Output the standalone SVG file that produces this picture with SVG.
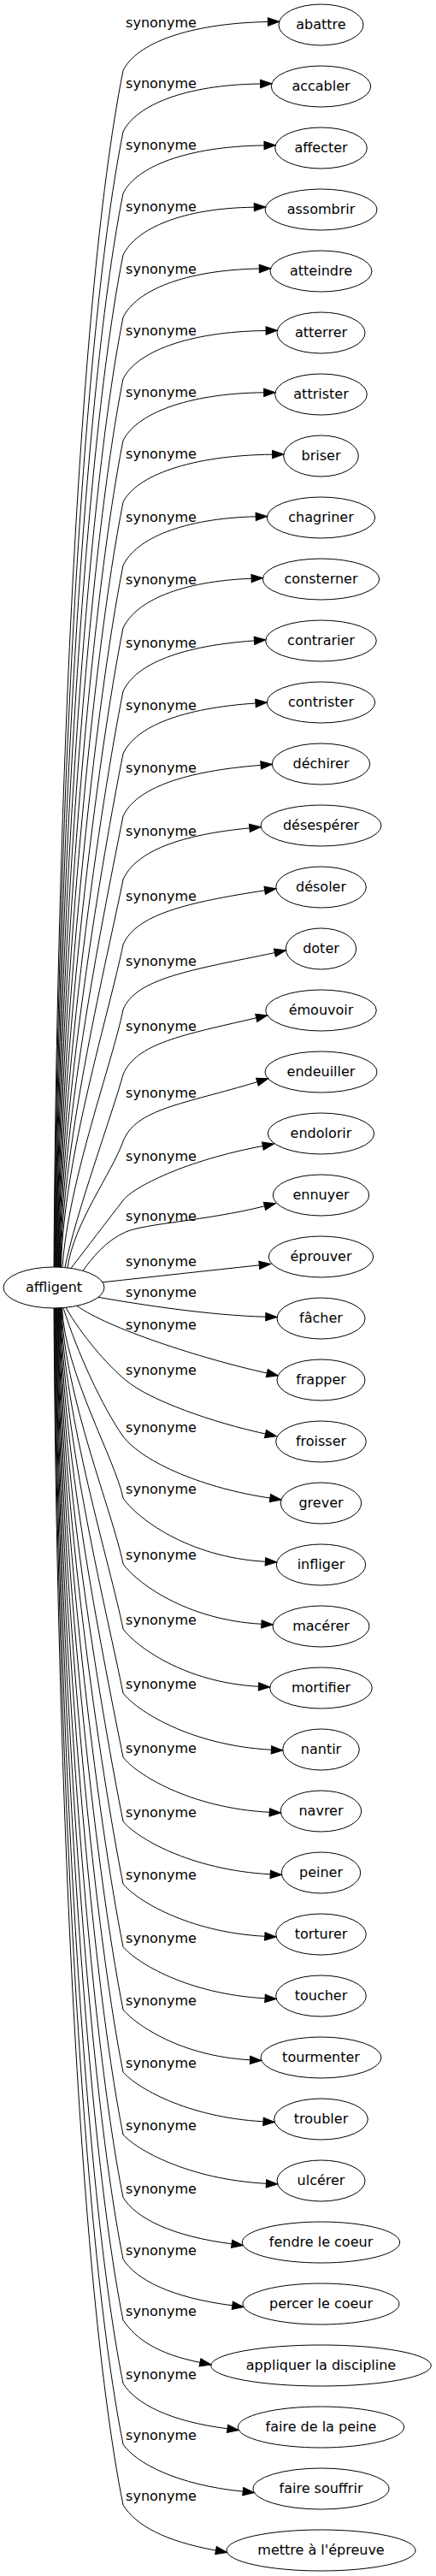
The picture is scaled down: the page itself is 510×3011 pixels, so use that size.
<svg xmlns="http://www.w3.org/2000/svg" width="510" height="3011" viewBox="0 0 510 3011">
<defs>
<style>
text{font-family:"DejaVu Sans",sans-serif;font-size:16px;text-anchor:middle;fill:#000}
.node ellipse{fill:none;stroke:#000;stroke-width:1}
#edges path{fill:none;stroke:#000;stroke-width:1;marker-end:url(#arr)}
</style>
<marker id="arr" markerUnits="userSpaceOnUse" markerWidth="14" markerHeight="10" viewBox="0 -5 14 10" refX="0" refY="0" orient="auto" overflow="visible"><path d="M0,-4.67L13.33,0L0,4.67Z" fill="#000" stroke="#000" stroke-width="1"/></marker>
</defs>
<rect width="510" height="3011" fill="#fff"/>
<g id="edges">
<g id="e0"><path d="M63,1481C66,1005.5 88.1,362.2 144,82.5C159,51.1 220.2,27.2 313.4,25.5"/><text x="188.5" y="31.5">synonyme</text></g>
<g id="e1"><path d="M63.6,1481C66.6,1029.8 90.9,419.4 144,154C159,123.2 216.3,99 304.6,98"/><text x="188.5" y="103">synonyme</text></g>
<g id="e2"><path d="M64.2,1481C67.2,1054.3 93.8,477 144,226C159,195.2 218.3,171 309,170"/><text x="188.5" y="175">synonyme</text></g>
<g id="e3"><path d="M64.8,1481C67.8,1078.8 96.7,534.6 144,298C159,267.3 213,243.2 297.3,242.2"/><text x="188.5" y="247">synonyme</text></g>
<g id="e4"><path d="M65.4,1481C68.4,1103.6 99.6,593 144,371C159,339.65 215.7,315.7 303.3,314"/><text x="188.5" y="320">synonyme</text></g>
<g id="e5"><path d="M66,1481C69,1128.1 102.5,650.6 144,443C159,411.9 219.2,387.5 311.1,386.5"/><text x="188.5" y="392">synonyme</text></g>
<g id="e6"><path d="M66.6,1481C69.6,1152.6 105.4,708.2 144,515C159,484.1 218.1,459.8 308.7,458.8"/><text x="188.5" y="464">synonyme</text></g>
<g id="e7"><path d="M67.2,1481C70.2,1177 108.2,765.8 144,587C159,556.3 222.6,532.2 318.6,531.2"/><text x="188.5" y="536">synonyme</text></g>
<g id="e8"><path d="M67.8,1481C70.8,1202.2 111.2,825 144,661C159,629.5 213.8,606 299.2,603.8"/><text x="188.5" y="610">synonyme</text></g>
<g id="e9"><path d="M68.4,1481C71.4,1227 114.1,883.4 144,734C159,702.2 211.5,679.5 294.1,676.2"/><text x="188.5" y="683">synonyme</text></g>
<g id="e10"><path d="M69,1481C72,1252.2 117.1,942.6 144,808C159,775.5 213.1,754.8 297.5,748.9"/><text x="188.5" y="757">synonyme</text></g>
<g id="e11"><path d="M69.6,1481C72.6,1277 120,1001 144,881C159,848.6 213.8,827.7 299,822"/><text x="188.5" y="830">synonyme</text></g>
<g id="e12"><path d="M70.2,1481C73.2,1301.8 122.9,1059.4 144,954C159,921.2 216.5,901.2 305.1,894.4"/><text x="188.5" y="903">synonyme</text></g>
<g id="e13"><path d="M70.8,1481C73.8,1327 125.9,1118.6 144,1028C159,994.9 210.6,975.7 291.9,967.9"/><text x="188.5" y="977">synonyme</text></g>
<g id="e14"><path d="M71.4,1481C74.4,1352.8 128.9,1179.4 144,1104C159,1069.2 218.6,1054.7 309.7,1040.8"/><text x="188.5" y="1053">synonyme</text></g>
<g id="e15"><path d="M73,1481C80,1380 132,1240.2 144,1180C159,1143.5 223.8,1133.8 321.4,1113.6"/><text x="188.5" y="1129">synonyme</text></g>
<g id="e16"><path d="M76,1481.5C88,1420 132,1300 144,1256C159,1219.6 214.1,1209.6 299.8,1189.8"/><text x="188.5" y="1205">synonyme</text></g>
<g id="e17"><path d="M79,1482C86,1430 131,1371 144,1334C159,1295.8 214.6,1290.7 300.9,1264.6"/><text x="188.5" y="1283">synonyme</text></g>
<g id="e18"><path d="M83,1482.5C99.5,1461 127.5,1424.5 144,1403C156.2,1387.2 217.5,1356.3 307.4,1339.5"/><text x="188.5" y="1357">synonyme</text></g>
<g id="e19"><path d="M97,1485.4C107,1471 124,1450 147,1440C170,1430 240,1427 309.5,1409.8"/><text x="188.5" y="1427">synonyme</text></g>
<g id="e20"><path d="M120,1498.8C180,1492.2 240,1485.6 303.3,1478.8"/><text x="188.5" y="1480">synonyme</text></g>
<g id="e21"><path d="M115,1516.3C165,1525 245,1537.5 310.8,1539.2"/><text x="188.5" y="1516">synonyme</text></g>
<g id="e22"><path d="M90,1526.3C125,1552 235,1588 312.3,1605"/><text x="188.5" y="1553.5">synonyme</text></g>
<g id="e23"><path d="M77,1528.3C95,1560 125,1595 146.7,1613C175,1637 250,1663 310.5,1676"/><text x="188.5" y="1607">synonyme</text></g>
<g id="e24"><path d="M74,1528.6C90,1580 120,1645 144,1679C168,1710 240,1740 315.9,1751"/><text x="188.5" y="1673.5">synonyme</text></g>
<g id="e25"><path d="M72.6,1528.7C75.6,1604.3 135.1,1706.5 144,1751C159,1773.3 218.9,1820.3 310.4,1825.3"/><text x="188.5" y="1746">synonyme</text></g>
<g id="e26"><path d="M72,1528.8C75,1630.5 132,1768.2 144,1828C159,1849.1 216.9,1893.4 305.9,1898.3"/><text x="188.5" y="1823">synonyme</text></g>
<g id="e27"><path d="M71.4,1528.8C74.4,1656.6 129,1829 144,1904C159,1924.2 215.3,1966.5 302.5,1971.3"/><text x="188.5" y="1899">synonyme</text></g>
<g id="e28"><path d="M70.8,1528.8C73.8,1682.1 126,1889 144,1979C159,1998.9 222,2040.1 317.4,2045.3"/><text x="188.5" y="1974">synonyme</text></g>
<g id="e29"><path d="M70.2,1528.8C73.2,1707.6 123,1949 144,2054C159,2073.3 221,2113.2 315.2,2118.3"/><text x="188.5" y="2049">synonyme</text></g>
<g id="e30"><path d="M69.6,1528.8C72.6,1733.1 120,2009 144,2129C159,2147.5 221.5,2185.6 316.2,2190.8"/><text x="188.5" y="2124">synonyme</text></g>
<g id="e31"><path d="M69,1528.9C72,1757.9 117.1,2067.4 144,2202C159,2220.4 218.6,2258.3 309.8,2263.3"/><text x="188.5" y="2197">synonyme</text></g>
<g id="e32"><path d="M68.4,1528.9C71.4,1782.9 114.1,2126.2 144,2275.5C159,2293.6 218.7,2330.8 310,2335.8"/><text x="188.5" y="2270.5">synonyme</text></g>
<g id="e33"><path d="M67.8,1528.9C70.8,1807.9 111.2,2185 144,2349C159,2366.6 210.8,2403.3 292.5,2407.8"/><text x="188.5" y="2344">synonyme</text></g>
<g id="e34"><path d="M67.2,1528.9C70.2,1832.7 108.3,2243.4 144,2422C159,2439.3 217.8,2474.9 308,2479.8"/><text x="188.5" y="2417">synonyme</text></g>
<g id="e35"><path d="M66.6,1529C69.6,1857.5 105.4,2301.8 144,2495C159,2512.2 219.3,2547.3 311.4,2552.3"/><text x="188.5" y="2490">synonyme</text></g>
<g id="e36"><path d="M66,1529C69,1882.4 102.4,2360.6 144,2568.5C159,2592.9 201.2,2613.9 271.1,2622.8"/><text x="188.5" y="2563.5">synonyme</text></g>
<g id="e37"><path d="M65.4,1529C68.4,1906.9 99.5,2418.2 144,2640.5C159,2664.9 201.5,2685.9 271.8,2694.8"/><text x="188.5" y="2635.5">synonyme</text></g>
<g id="e38"><path d="M64.8,1529C67.8,1931.2 96.7,2475.4 144,2712C159,2734.2 184.5,2751.5 234,2761.4"/><text x="188.5" y="2707">synonyme</text></g>
<g id="e39"><path d="M64.2,1529C67.2,1956.4 93.7,2534.6 144,2786C159,2809.8 198.9,2830.3 266.1,2838.8"/><text x="188.5" y="2781">synonyme</text></g>
<g id="e40"><path d="M63.6,1529C66.6,1980.5 90.9,2591.4 144,2857C159,2879 207.1,2904.5 284.2,2912.2"/><text x="188.5" y="2852">synonyme</text></g>
<g id="e41"><path d="M63,1529C66,2004.7 88,2648.2 144,2928C159,2951.9 192.8,2970.3 252.5,2981.1"/><text x="188.5" y="2923">synonyme</text></g>
</g>
<g id="n-affligent" class="node"><ellipse cx="63" cy="1505" rx="59" ry="24"/><text x="63" y="1510.3">affligent</text></g>
<g id="n-abattre" class="node"><ellipse cx="375.5" cy="29" rx="49.5" ry="24"/><text x="375.5" y="34.3">abattre</text></g>
<g id="n-accabler" class="node"><ellipse cx="375.5" cy="101" rx="58.2" ry="24"/><text x="375.5" y="106.3">accabler</text></g>
<g id="n-affecter" class="node"><ellipse cx="375.5" cy="173" rx="53.8" ry="24"/><text x="375.5" y="178.3">affecter</text></g>
<g id="n-assombrir" class="node"><ellipse cx="375.5" cy="245" rx="65.5" ry="24"/><text x="375.5" y="250.3">assombrir</text></g>
<g id="n-atteindre" class="node"><ellipse cx="375.5" cy="317" rx="59.5" ry="24"/><text x="375.5" y="322.3">atteindre</text></g>
<g id="n-atterrer" class="node"><ellipse cx="375.5" cy="389" rx="51.5" ry="24"/><text x="375.5" y="394.3">atterrer</text></g>
<g id="n-attrister" class="node"><ellipse cx="375.5" cy="461" rx="53.8" ry="24"/><text x="375.5" y="466.3">attrister</text></g>
<g id="n-briser" class="node"><ellipse cx="375.5" cy="533" rx="43.8" ry="24"/><text x="375.5" y="538.3">briser</text></g>
<g id="n-chagriner" class="node"><ellipse cx="375.5" cy="605" rx="63.2" ry="24"/><text x="375.5" y="610.3">chagriner</text></g>
<g id="n-consterner" class="node"><ellipse cx="375.5" cy="677" rx="68.2" ry="24"/><text x="375.5" y="682.3">consterner</text></g>
<g id="n-contrarier" class="node"><ellipse cx="375.5" cy="749" rx="64.8" ry="24"/><text x="375.5" y="754.3">contrarier</text></g>
<g id="n-contrister" class="node"><ellipse cx="375.5" cy="821" rx="63.2" ry="24"/><text x="375.5" y="826.3">contrister</text></g>
<g id="n-dechirer" class="node"><ellipse cx="375.5" cy="893" rx="57.2" ry="24"/><text x="375.5" y="898.3">déchirer</text></g>
<g id="n-desesperer" class="node"><ellipse cx="375.5" cy="965" rx="70.5" ry="24"/><text x="375.5" y="970.3">désespérer</text></g>
<g id="n-desoler" class="node"><ellipse cx="375.5" cy="1037" rx="52.8" ry="24"/><text x="375.5" y="1042.3">désoler</text></g>
<g id="n-doter" class="node"><ellipse cx="375.5" cy="1109" rx="41.2" ry="24"/><text x="375.5" y="1114.3">doter</text></g>
<g id="n-emouvoir" class="node"><ellipse cx="375.5" cy="1181" rx="64.8" ry="24"/><text x="375.5" y="1186.3">émouvoir</text></g>
<g id="n-endeuiller" class="node"><ellipse cx="375.5" cy="1253" rx="65.5" ry="24"/><text x="375.5" y="1258.3">endeuiller</text></g>
<g id="n-endolorir" class="node"><ellipse cx="375.5" cy="1325" rx="62.2" ry="24"/><text x="375.5" y="1330.3">endolorir</text></g>
<g id="n-ennuyer" class="node"><ellipse cx="375.5" cy="1397" rx="56.2" ry="24"/><text x="375.5" y="1402.3">ennuyer</text></g>
<g id="n-eprouver" class="node"><ellipse cx="375.5" cy="1469" rx="61.2" ry="24"/><text x="375.5" y="1474.3">éprouver</text></g>
<g id="n-facher" class="node"><ellipse cx="375.5" cy="1541" rx="51.5" ry="24"/><text x="375.5" y="1546.3">fâcher</text></g>
<g id="n-frapper" class="node"><ellipse cx="375.5" cy="1613" rx="51.5" ry="24"/><text x="375.5" y="1618.3">frapper</text></g>
<g id="n-froisser" class="node"><ellipse cx="375.5" cy="1685" rx="52.8" ry="24"/><text x="375.5" y="1690.3">froisser</text></g>
<g id="n-grever" class="node"><ellipse cx="375.5" cy="1757" rx="47.2" ry="24"/><text x="375.5" y="1762.3">grever</text></g>
<g id="n-infliger" class="node"><ellipse cx="375.5" cy="1829" rx="52.2" ry="24"/><text x="375.5" y="1834.3">infliger</text></g>
<g id="n-macerer" class="node"><ellipse cx="375.5" cy="1901" rx="56.5" ry="24"/><text x="375.5" y="1906.3">macérer</text></g>
<g id="n-mortifier" class="node"><ellipse cx="375.5" cy="1973" rx="59.8" ry="24"/><text x="375.5" y="1978.3">mortifier</text></g>
<g id="n-nantir" class="node"><ellipse cx="375.5" cy="2045" rx="44.8" ry="24"/><text x="375.5" y="2050.3">nantir</text></g>
<g id="n-navrer" class="node"><ellipse cx="375.5" cy="2117" rx="47.2" ry="24"/><text x="375.5" y="2122.3">navrer</text></g>
<g id="n-peiner" class="node"><ellipse cx="375.5" cy="2189" rx="46.2" ry="24"/><text x="375.5" y="2194.3">peiner</text></g>
<g id="n-torturer" class="node"><ellipse cx="375.5" cy="2261" rx="52.8" ry="24"/><text x="375.5" y="2266.3">torturer</text></g>
<g id="n-toucher" class="node"><ellipse cx="375.5" cy="2333" rx="52.8" ry="24"/><text x="375.5" y="2338.3">toucher</text></g>
<g id="n-tourmenter" class="node"><ellipse cx="375.5" cy="2405" rx="70.5" ry="24"/><text x="375.5" y="2410.3">tourmenter</text></g>
<g id="n-troubler" class="node"><ellipse cx="375.5" cy="2477" rx="54.8" ry="24"/><text x="375.5" y="2482.3">troubler</text></g>
<g id="n-ulcerer" class="node"><ellipse cx="375.5" cy="2549" rx="51.5" ry="24"/><text x="375.5" y="2554.3">ulcérer</text></g>
<g id="n-fendre" class="node"><ellipse cx="375.5" cy="2621" rx="92.2" ry="24"/><text x="375.5" y="2626.3">fendre le coeur</text></g>
<g id="n-percer" class="node"><ellipse cx="375.5" cy="2693" rx="91.5" ry="24"/><text x="375.5" y="2698.3">percer le coeur</text></g>
<g id="n-appliquer" class="node"><ellipse cx="375.5" cy="2765" rx="128.8" ry="24"/><text x="375.5" y="2770.3">appliquer la discipline</text></g>
<g id="n-faire-peine" class="node"><ellipse cx="375.5" cy="2837" rx="97.2" ry="24"/><text x="375.5" y="2842.3">faire de la peine</text></g>
<g id="n-faire-souffrir" class="node"><ellipse cx="375.5" cy="2909" rx="79.5" ry="24"/><text x="375.5" y="2914.3">faire souffrir</text></g>
<g id="n-mettre" class="node"><ellipse cx="375.5" cy="2981" rx="110.5" ry="24"/><text x="375.5" y="2986.3">mettre à l'épreuve</text></g>
</svg>
